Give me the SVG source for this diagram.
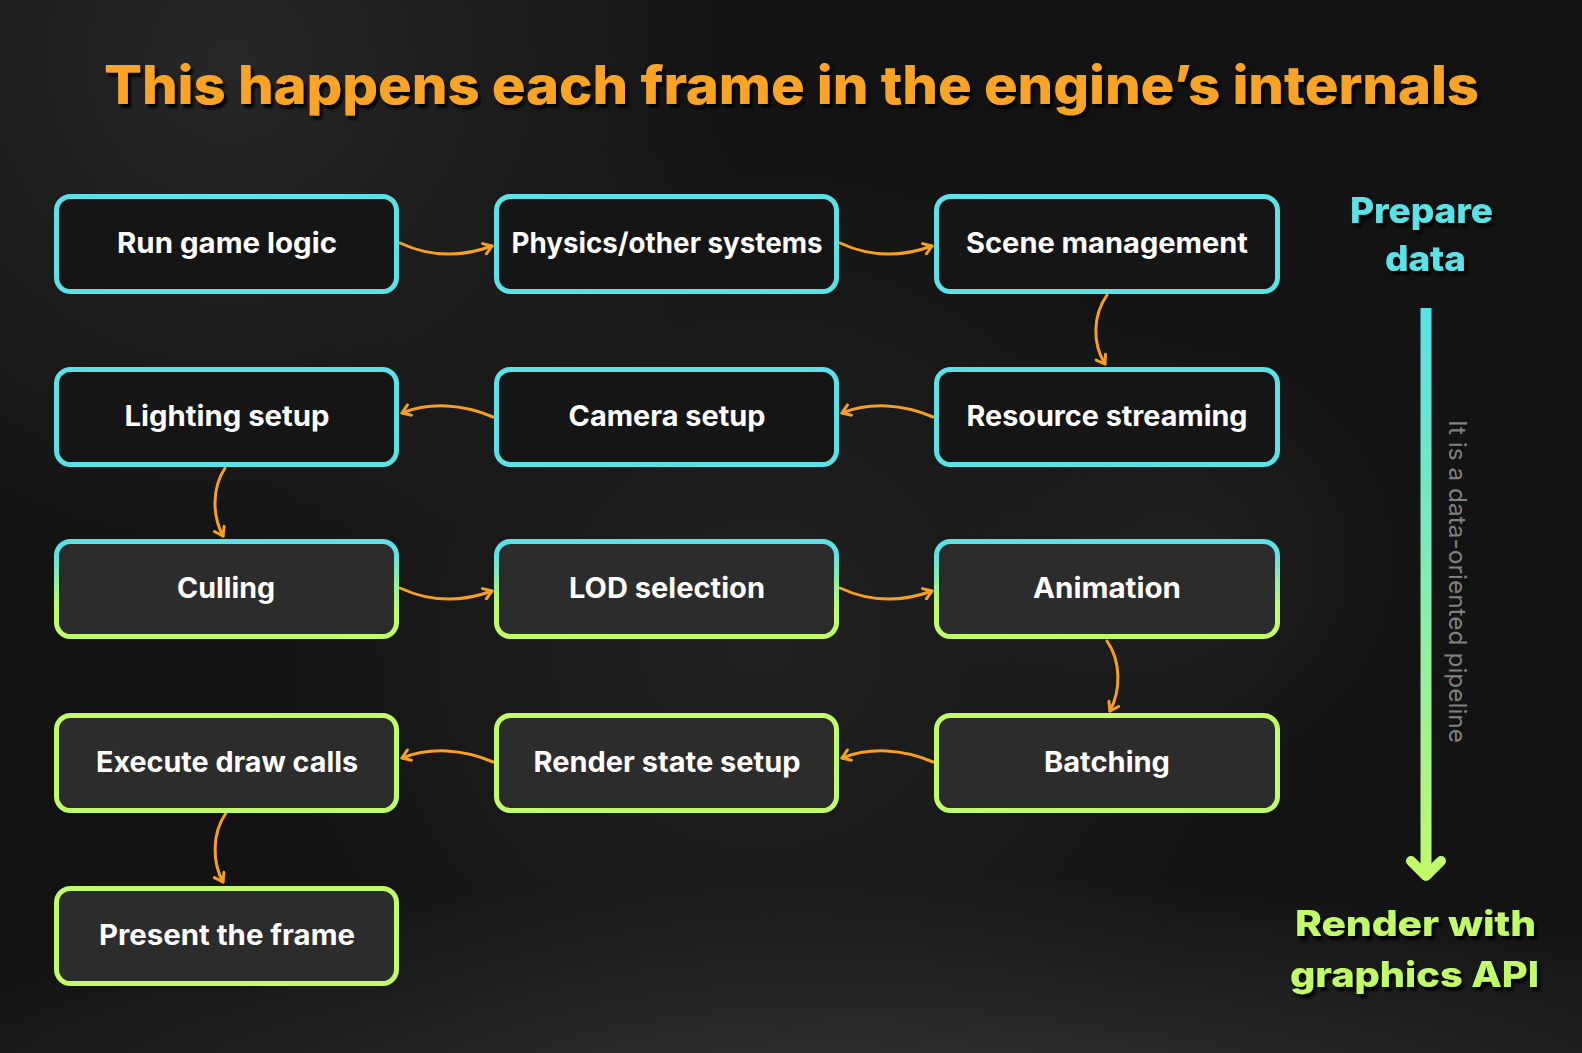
<svg xmlns="http://www.w3.org/2000/svg" width="1582" height="1053" viewBox="0 0 1582 1053">
  <defs>
    <style>
      .node-dark { fill: #151515; stroke: #5ce1e6; stroke-width: 5; }
      .node-mid { fill: #2d2c2c; stroke: url(#gMid); stroke-width: 5; }
      .node-green { fill: #2d2c2c; stroke: #c1fa6b; stroke-width: 5; }
      .lbl { font-family: "Inter", "Open Sans", "Liberation Sans", sans-serif; font-weight: 700; font-size: 28px; fill: #ffffff; text-anchor: middle; }
      .conn { fill: none; stroke: #f5a024; stroke-width: 3; stroke-linecap: round; marker-end: url(#arr); }
      .title { font-family: "Inter", "Open Sans", "Liberation Sans", sans-serif; font-weight: 800; font-size: 53px; fill: #f9a425; }
      .side { font-family: "Inter", "Open Sans", "Liberation Sans", sans-serif; font-weight: 800; font-size: 35px; text-anchor: middle; }
    </style>
    <linearGradient id="gMid" x1="0" y1="0" x2="0" y2="1">
      <stop offset="0" stop-color="#5ce1e6"/>
      <stop offset="0.12" stop-color="#5ce1e6"/>
      <stop offset="0.7" stop-color="#c1fa6b"/>
      <stop offset="1" stop-color="#c1fa6b"/>
    </linearGradient>
    <linearGradient id="gBar" gradientUnits="userSpaceOnUse" x1="0" y1="308" x2="0" y2="880">
      <stop offset="0" stop-color="#58e0e6"/>
      <stop offset="0.45" stop-color="#7eebb6"/>
      <stop offset="1" stop-color="#c1fa6b"/>
    </linearGradient>
    <radialGradient id="bgA" cx="230" cy="60" r="520" gradientUnits="userSpaceOnUse">
      <stop offset="0" stop-color="#2a2a2a" stop-opacity="0.85"/>
      <stop offset="1" stop-color="#2a2a2a" stop-opacity="0"/>
    </radialGradient>
    <radialGradient id="bgB" cx="900" cy="1120" r="700" gradientUnits="userSpaceOnUse" gradientTransform="translate(900 1120) scale(1.6 0.35) translate(-900 -1120)">
      <stop offset="0" stop-color="#333333" stop-opacity="1"/>
      <stop offset="1" stop-color="#333333" stop-opacity="0"/>
    </radialGradient>
    <radialGradient id="bgC" cx="760" cy="640" r="520" gradientUnits="userSpaceOnUse">
      <stop offset="0" stop-color="#242424" stop-opacity="0.8"/>
      <stop offset="1" stop-color="#242424" stop-opacity="0"/>
    </radialGradient>
    <radialGradient id="bgD" cx="1180" cy="560" r="240" gradientUnits="userSpaceOnUse">
      <stop offset="0" stop-color="#222222" stop-opacity="0.8"/>
      <stop offset="1" stop-color="#222222" stop-opacity="0"/>
    </radialGradient>
    <filter id="shadow" x="-5%" y="-30%" width="110%" height="160%">
      <feDropShadow dx="3" dy="4" stdDeviation="1.5" flood-color="#000000" flood-opacity="0.9"/>
    </filter>
    <marker id="arr" viewBox="0 0 14 14" refX="11" refY="7" markerWidth="14" markerHeight="14" markerUnits="userSpaceOnUse" orient="auto">
      <path d="M3,1.5 L11,7 L3,12.5" fill="none" stroke="#f5a024" stroke-width="3" stroke-linecap="round" stroke-linejoin="round"/>
    </marker>
  </defs>

  <g id="background">
    <rect x="0" y="0" width="1582" height="1053" fill="#131313"/>
    <rect x="0" y="0" width="1582" height="1053" fill="url(#bgC)"/>
    <rect x="0" y="0" width="1582" height="1053" fill="url(#bgD)"/>
    <rect x="0" y="0" width="1582" height="1053" fill="url(#bgA)"/>
    <rect x="0" y="0" width="1582" height="1053" fill="url(#bgB)"/>
  </g>

  <g id="title">
    <text class="title" x="104" y="104" textLength="1375" lengthAdjust="spacingAndGlyphs" filter="url(#shadow)">This happens each frame in the engine’s internals</text>
  </g>

  <g id="connectors">
    <path class="conn" d="M400,243 C430,257 462,257 492,246"/>
    <path class="conn" d="M840,243 C870,257 902,257 932,246"/>
    <path class="conn" d="M1107,295 C1093,315 1092,343 1105,364"/>
    <path class="conn" d="M933,417 C903,404 870,402 842,413"/>
    <path class="conn" d="M493,417 C463,404 430,402 402,413"/>
    <path class="conn" d="M225,468 C212,488 212,515 223,536"/>
    <path class="conn" d="M400,588 C430,602 462,602 492,591"/>
    <path class="conn" d="M840,588 C870,602 902,602 932,591"/>
    <path class="conn" d="M1107,641 C1121,661 1121,690 1110,711"/>
    <path class="conn" d="M933,762 C903,749 870,747 842,758"/>
    <path class="conn" d="M493,762 C463,749 430,747 402,758"/>
    <path class="conn" d="M226,813 C212,833 212,862 223,882"/>
  </g>

  <g id="n-run-game-logic">
    <rect class="node-dark" x="56.5" y="196.5" width="340" height="95" rx="14"/>
    <text class="lbl" x="227" y="253" textLength="220" lengthAdjust="spacingAndGlyphs">Run game logic</text>
  </g>
  <g id="n-physics">
    <rect class="node-dark" x="496.5" y="196.5" width="340" height="95" rx="14"/>
    <text class="lbl" x="667" y="253" textLength="311" lengthAdjust="spacingAndGlyphs">Physics/other systems</text>
  </g>
  <g id="n-scene-management">
    <rect class="node-dark" x="936.5" y="196.5" width="341" height="95" rx="14"/>
    <text class="lbl" x="1107" y="253" textLength="282" lengthAdjust="spacingAndGlyphs">Scene management</text>
  </g>

  <g id="n-lighting-setup">
    <rect class="node-dark" x="56.5" y="369.5" width="340" height="95" rx="14"/>
    <text class="lbl" x="227" y="426" textLength="205" lengthAdjust="spacingAndGlyphs">Lighting setup</text>
  </g>
  <g id="n-camera-setup">
    <rect class="node-dark" x="496.5" y="369.5" width="340" height="95" rx="14"/>
    <text class="lbl" x="667" y="426" textLength="197" lengthAdjust="spacingAndGlyphs">Camera setup</text>
  </g>
  <g id="n-resource-streaming">
    <rect class="node-dark" x="936.5" y="369.5" width="341" height="95" rx="14"/>
    <text class="lbl" x="1107" y="426" textLength="281" lengthAdjust="spacingAndGlyphs">Resource streaming</text>
  </g>

  <g id="n-culling">
    <rect class="node-mid" x="56.5" y="541.5" width="340" height="95" rx="14"/>
    <text class="lbl" x="226" y="598" textLength="98" lengthAdjust="spacingAndGlyphs">Culling</text>
  </g>
  <g id="n-lod-selection">
    <rect class="node-mid" x="496.5" y="541.5" width="340" height="95" rx="14"/>
    <text class="lbl" x="667" y="598" textLength="196" lengthAdjust="spacingAndGlyphs">LOD selection</text>
  </g>
  <g id="n-animation">
    <rect class="node-mid" x="936.5" y="541.5" width="341" height="95" rx="14"/>
    <text class="lbl" x="1107" y="598" textLength="148" lengthAdjust="spacingAndGlyphs">Animation</text>
  </g>

  <g id="n-execute-draw-calls">
    <rect class="node-green" x="56.5" y="715.5" width="340" height="95" rx="14"/>
    <text class="lbl" x="227" y="772" textLength="262" lengthAdjust="spacingAndGlyphs">Execute draw calls</text>
  </g>
  <g id="n-render-state-setup">
    <rect class="node-green" x="496.5" y="715.5" width="340" height="95" rx="14"/>
    <text class="lbl" x="667" y="772" textLength="267" lengthAdjust="spacingAndGlyphs">Render state setup</text>
  </g>
  <g id="n-batching">
    <rect class="node-green" x="936.5" y="715.5" width="341" height="95" rx="14"/>
    <text class="lbl" x="1107" y="772" textLength="126" lengthAdjust="spacingAndGlyphs">Batching</text>
  </g>

  <g id="n-present-the-frame">
    <rect class="node-green" x="56.5" y="888.5" width="340" height="95" rx="14"/>
    <text class="lbl" x="227" y="945" textLength="256" lengthAdjust="spacingAndGlyphs">Present the frame</text>
  </g>

  <g id="side-legend">
    <text class="side" x="1421.5" y="223" fill="#5ce1e6" textLength="143" lengthAdjust="spacingAndGlyphs" filter="url(#shadow)">Prepare</text>
    <text class="side" x="1425.5" y="271" fill="#5ce1e6" textLength="81" lengthAdjust="spacingAndGlyphs" filter="url(#shadow)">data</text>
    <path d="M1426,308 L1426,872" fill="none" stroke="url(#gBar)" stroke-width="11"/>
    <polyline points="1411,861 1426,876 1441,861" fill="none" stroke="#c1fa6b" stroke-width="10" stroke-linecap="round" stroke-linejoin="round"/>
    <text transform="translate(1449 420) rotate(90)" x="0" y="0" font-family="Inter, 'Open Sans', 'Liberation Sans', sans-serif" font-size="24" fill="#808080" textLength="323" lengthAdjust="spacingAndGlyphs">It is a data-oriented pipeline</text>
    <text class="side" x="1415.5" y="936" fill="#c1fa6b" textLength="241" lengthAdjust="spacingAndGlyphs" filter="url(#shadow)">Render with</text>
    <text class="side" x="1414.5" y="987" fill="#c1fa6b" textLength="249" lengthAdjust="spacingAndGlyphs" filter="url(#shadow)">graphics API</text>
  </g>
</svg>
